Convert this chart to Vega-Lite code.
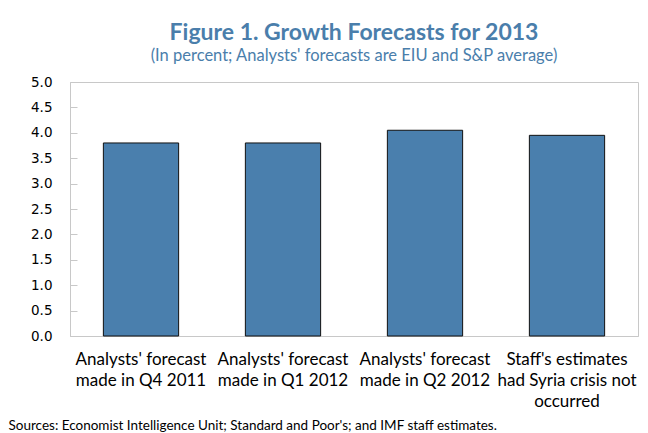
{
  "$schema": "https://vega.github.io/schema/vega-lite/v6.json",
  "width": 568,
  "height": 254,
  "autosize": {"type": "none"},
  "padding": {"left": 70, "top": 82, "right": 10, "bottom": 97},
  "background": "white",
  "title": {
    "text": "Figure 1. Growth Forecasts for 2013",
    "subtitle": "(In percent; Analysts' forecasts are EIU and S&P average)",
    "anchor": "middle",
    "font": "Lato",
    "fontSize": 23,
    "fontWeight": "bold",
    "color": "#4a7eab",
    "subtitleFont": "Lato",
    "subtitleFontSize": 16.5,
    "subtitleColor": "#4a7eab",
    "subtitlePadding": 3,
    "offset": 11
  },
  "data": {
    "values": [
      {"label": "Analysts' forecast made in Q4 2011", "growth": 3.8},
      {"label": "Analysts' forecast made in Q1 2012", "growth": 3.8},
      {"label": "Analysts' forecast made in Q2 2012", "growth": 4.05},
      {"label": "Staff's estimates had Syria crisis not occurred", "growth": 3.95}
    ]
  },
  "mark": {"type": "bar", "color": "#4a7fad", "stroke": "#111111", "strokeWidth": 1},
  "encoding": {
    "x": {
      "field": "label",
      "type": "nominal",
      "sort": null,
      "scale": {"paddingInner": 0.47, "paddingOuter": 0.235},
      "axis": {
        "title": "Sources: Economist Intelligence Unit; Standard and Poor's; and IMF staff estimates.",
        "titleFont": "Lato",
        "titleFontSize": 13.5,
        "titleFontWeight": "normal",
        "titleColor": "#000000",
        "titleAnchor": "start",
        "titleAlign": "left",
        "titleX": -62,
        "titleY": 82,
        "labelExpr": "indexof(datum.label,'Staff')==0 ? ['Staff\\'s estimates','had Syria crisis not','occurred'] : [slice(datum.label,0,18), slice(datum.label,19)]",
        "labelAngle": 0,
        "labelFont": "Lato",
        "labelFontSize": 17,
        "labelColor": "#000000",
        "labelLineHeight": 21,
        "labelPadding": 22,
        "bandPosition": 0,
        "tickSize": -7,
        "tickColor": "#c8c8c8",
        "domainColor": "#c8c8c8"
      }
    },
    "y": {
      "field": "growth",
      "type": "quantitative",
      "scale": {"domain": [0, 5]},
      "axis": {
        "title": null,
        "values": [0, 0.5, 1, 1.5, 2, 2.5, 3, 3.5, 4, 4.5, 5],
        "format": ".1f",
        "grid": false,
        "labelFont": "DejaVu Sans",
        "labelFontSize": 13.5,
        "labelColor": "#000000",
        "labelPadding": 25,
        "tickSize": -7,
        "tickColor": "#c8c8c8",
        "domainColor": "#c8c8c8"
      }
    }
  },
  "config": {
    "view": {"stroke": "#c8c8c8", "strokeWidth": 1}
  }
}
